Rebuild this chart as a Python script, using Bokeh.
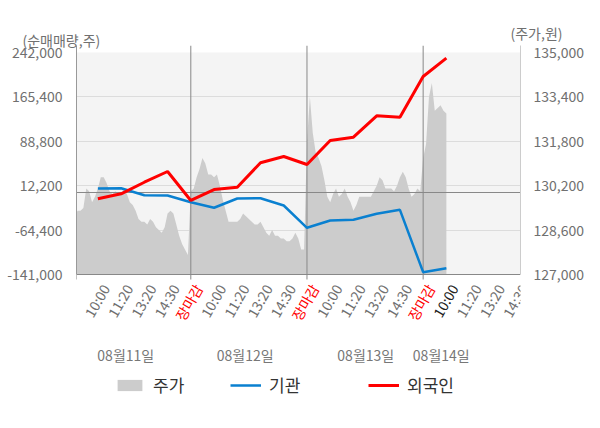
from bokeh.plotting import figure
from bokeh.models import (Range1d, LinearAxis, FixedTicker, NumeralTickFormatter,
                          BoxAnnotation, Legend, LegendItem, ColumnDataSource, Title)
from bokeh.core.properties import value
from bokeh.embed import file_html
from bokeh.resources import INLINE
import math

FONT = "Noto Sans CJK KR"

# ---------------- data ----------------
dates = ["08월11일", "08월12일", "08월13일", "08월14일"]
date_label_pos = [2.2, 7.34, 12.53, 15.78]
time_labels = ["10:00", "11:20", "13:20", "14:30", "장마감"]
day_bounds = [5, 10, 15]

left_ticks = [-141000, -64400, 12200, 88800, 165400, 242000]
right_ticks = [127000, 128600, 130200, 131800, 133400, 135000]

# stock price (주가), 40 samples per session
price_d1 = [129100, 129300, 129300, 129400, 130100, 130000, 129600, 129800, 130100, 130500,
            130500, 130300, 130000, 129900, 130000, 129900, 129900, 130100, 129900, 129600,
            129500, 129300, 129000, 128900, 128900, 128800, 129000, 128900, 128700, 128600,
            128500, 128700, 129200, 129300, 129200, 128800, 128400, 128100, 127900, 127700]
price_d2 = [130000, 130100, 130500, 130800, 131200, 131000, 130600, 130600, 130500, 130600,
            130200, 129700, 129300, 128900, 128900, 128900, 128900, 129000, 129200, 129100,
            129000, 128900, 128800, 128800, 128900, 128700, 128500, 128400, 128600, 128400,
            128400, 128300, 128300, 128200, 128200, 128300, 128500, 128300, 127900, 127900]
price_d3 = [131800, 133400, 132100, 131400, 131200, 130900, 130400, 129800, 129600, 129900,
            130100, 129800, 129900, 130100, 129800, 129600, 129300, 129500, 129800, 129800,
            129800, 129800, 129800, 130000, 130200, 130500, 130400, 130100, 130100, 130100,
            130000, 130200, 130500, 130700, 130500, 130100, 129800, 129900, 130100, 130000]
price_d4 = [131200, 131700, 133400, 133900, 132900, 133000, 133100, 132900, 132800]
price_days = [price_d1, price_d2, price_d3, price_d4]

# cumulative net buying (순매매량, 주) at each time label
inst = [7400, 7900, -4200, -4700, -16300, -25900, -9900, -9400, -22000,
        -60400, -47800, -46600, -36300, -29400, -137000, -130100]
foreign = [-10400, -1800, 18200, 36700, -13300, 5600, 9600, 51700, 62600,
           48800, 90200, 95900, 132800, 130400, 200600, 232200]

# ---------------- layout constants ----------------
FRAME_TOP, AXIS_Y, FRAME_BOTTOM = 45, 274, 428      # screen px
L_TOP = 254076                                        # left value at frame top
R_TOP = 135252                                        # right value at frame top
l_px = (L_TOP - left_ticks[0]) / (AXIS_Y - FRAME_TOP)
r_px = (R_TOP - right_ticks[0]) / (AXIS_Y - FRAME_TOP)
L_LO = left_ticks[0] - (FRAME_BOTTOM - AXIS_Y) * l_px
R_LO = right_ticks[0] - (FRAME_BOTTOM - AXIS_Y) * r_px

# ---------------- derived ----------------
px, pv = [], []
for d, vals in enumerate(price_days):
    for i, v in enumerate(vals):
        px.append(5 * d + i * 5 / len(price_d1))
        pv.append(v)
line_x = list(range(1, len(inst) + 1))
tick_labels = (time_labels * 4)[:19]
tick_pos = list(range(1, len(tick_labels) + 1))
LATEST = 16  # latest time label (drawn dark)

GRAY = "#707070"
ANGLE = math.radians(60)

p = figure(width=600, height=428, min_border_left=76, min_border_right=80,
           min_border_top=FRAME_TOP, min_border_bottom=0,
           x_range=Range1d(0.08, 19.19), y_range=Range1d(L_LO, L_TOP),
           output_backend="svg", toolbar_location=None,
           background_fill_color="white", border_fill_color="white",
           outline_line_color=None)
p.extra_y_ranges = {"price": Range1d(R_LO, R_TOP)}

p.add_layout(BoxAnnotation(bottom=left_ticks[0], top=left_ticks[-1], fill_color="#f4f4f4",
                           fill_alpha=1, line_color=None, level="image"))

p.xgrid.visible = False
p.ygrid.ticker = FixedTicker(ticks=left_ticks[1:-1])
p.ygrid.grid_line_color = "#dcdcdc"
p.xaxis.visible = False

# left axis
ya = p.yaxis[0]
ya.bounds = (left_ticks[0], L_TOP)
ya.ticker = FixedTicker(ticks=left_ticks)
ya.formatter = NumeralTickFormatter(format="0,0")
ya.axis_line_color = "#999999"
ya.major_tick_line_color = None
ya.minor_tick_line_color = None
ya.major_label_standoff = 8
ya.major_label_text_font = FONT
ya.major_label_text_font_size = "14px"
ya.major_label_text_color = GRAY

ra = LinearAxis(y_range_name="price", bounds=(right_ticks[0], R_TOP),
                ticker=FixedTicker(ticks=right_ticks),
                formatter=NumeralTickFormatter(format="0,0"))
ra.axis_line_color = "#cccccc"
ra.major_tick_line_color = None
ra.minor_tick_line_color = None
ra.major_label_standoff = 7
ra.major_label_text_font = FONT
ra.major_label_text_font_size = "14px"
ra.major_label_text_color = GRAY
p.add_layout(ra, "right")

# glyphs
area = p.varea(x=px, y1=right_ticks[0], y2=pv, y_range_name="price",
               fill_color="#cccccc", fill_alpha=1)
p.segment(x0=day_bounds, y0=[left_ticks[0]] * 3, x1=day_bounds, y1=[L_TOP] * 3,
          line_color="#888888", line_width=1)
tick_x = [0.08] + day_bounds
p.segment(x0=tick_x, y0=[left_ticks[0]] * 4, x1=tick_x, y1=[left_ticks[0] - 5 * l_px] * 4,
          line_color="#888888", line_width=1)
p.hspan(y=[0, left_ticks[0]], line_color="#888888", line_width=1)
r_inst = p.line(x=line_x, y=inst, line_color="#0a80d0", line_width=2.5)
r_for = p.line(x=line_x, y=foreign, line_color="#ff0000", line_width=3)

# time labels under the axis line
colors = ["#ff0000" if lab == "장마감" else ("#222222" if pos == LATEST else GRAY)
          for pos, lab in zip(tick_pos, tick_labels)]
src = ColumnDataSource(dict(x=tick_pos, y=[left_ticks[0]] * len(tick_pos),
                            text=tick_labels, color=colors))
p.text(x="x", y="y", text="text", source=src, text_color="color", angle=ANGLE,
       text_align="right", text_baseline="top", x_offset=-1, y_offset=6,
       text_font=value(FONT), text_font_size="14px")

# date labels
p.text(x=date_label_pos, y=[left_ticks[0]] * len(dates), text=dates,
       text_align="center", text_baseline="middle", y_offset=80,
       text_color="#777777", text_font=value(FONT), text_font_size="14px")

# legends (inside the frame, below the labels)
legend_x = [38, 154, 292]
for (lab, r), lx in zip([("주가", area), ("기관", r_inst), ("외국인", r_for)], legend_x):
    lg = Legend(items=[LegendItem(label=lab, renderers=[r])], location=(lx, 31),
                orientation="horizontal", glyph_width=31, glyph_height=14,
                label_standoff=8, label_text_font=FONT, label_text_font_size="17px",
                label_text_color="#333333", padding=0, margin=0, spacing=0,
                border_line_color=None, background_fill_alpha=0)
    p.add_layout(lg)

# axis unit captions
t1 = Title(text="(순매매량,주)", align="left", offset=-54, standoff=-8,
           text_font=FONT, text_font_size="14px", text_font_style="normal", text_color=GRAY)
p.add_layout(t1, "above")
t2 = Title(text="(주가,원)", align="right", offset=-42, standoff=-22,
           text_font=FONT, text_font_size="14px", text_font_style="normal", text_color=GRAY)
p.add_layout(t2, "above")

open("out.html", "w").write(file_html(p, INLINE))
